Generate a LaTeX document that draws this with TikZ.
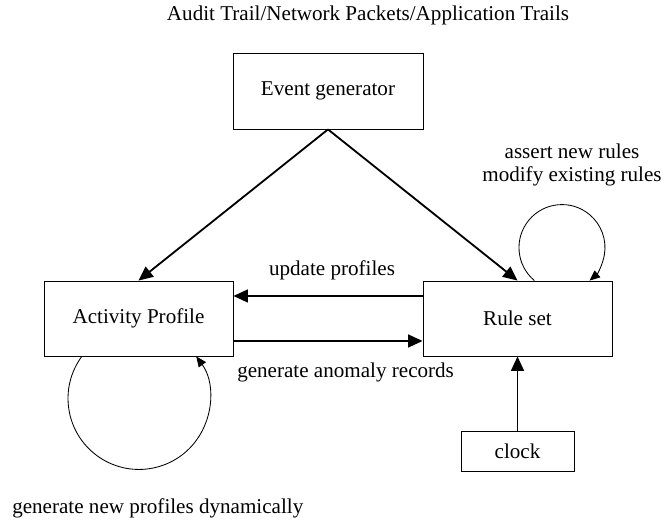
\documentclass[tikz,border=0pt]{standalone}
\usepackage{fontspec}
\setmainfont{Liberation Serif}
\usetikzlibrary{arrows.meta}

\begin{document}
\begin{tikzpicture}[
  box/.style={rectangle, draw, line width=0.6pt,
              minimum width=4.75cm, minimum height=1.9cm,
              font=\fontsize{15}{17}\selectfont, inner sep=0pt},
  lbl/.style={font=\fontsize{15}{17}\selectfont, align=center, inner sep=0pt},
  arr/.style={-{Triangle[length=0.36cm, width=0.32cm]}, line width=1.3pt},
  selfarr/.style={-{Triangle[length=0.26cm, width=0.22cm]}, line width=0.6pt}
]
\useasboundingbox (0,0) rectangle (16.65,13);

% Source text (top)
\node[lbl] (title) at (9.2,12.625) {Audit Trail/Network Packets/Application Trails};

% Event generator
\node[box] (evgen) at (8.2,10.725) {Event generator};

% Activity profile and rule set
\node[box, minimum width=4.725cm, minimum height=1.875cm] (actv) at (3.4625,5.0375) {Activity Profile};
\node[box, minimum width=4.725cm, minimum height=1.875cm] (rules) at (12.9375,5.0375) {Rule set};

% Clock (bottom)
\node[box, minimum width=2.825cm, minimum height=1cm] (clock) at (12.9375,1.725) {clock};

% Arrows
\draw[arr] (evgen.south) -- (actv.north);
\draw[arr] (evgen.south) -- (rules.north);
\draw[arr] ([yshift=0.5625cm]rules.west) -- ([yshift=0.5625cm]actv.east);
\draw[arr] ([yshift=-0.5625cm]actv.east) -- ([yshift=-0.5625cm]rules.west);
\draw[arr] (clock.north) -- (rules.south);

% Self loops
\draw[selfarr] ([xshift=0.4225cm]rules.north) arc[start angle=230.1, end angle=-50.1, radius=1.075cm];
\draw[selfarr] ([xshift=-1.4175cm]actv.south) arc[start angle=143.7, end angle=396.3, radius=1.775cm];

% Labels
\node[lbl] (upd) at (8.3,6.25) {update profiles};
\node[lbl, anchor=west] (anom) at (5.925,3.7) {generate anomaly records};
\node[lbl] (rulelbl) at (14.3,8.875) {assert new rules\\modify existing rules};
\node[lbl, anchor=west] (dyn) at (0.3,0.3) {generate new profiles dynamically};
\end{tikzpicture}
\end{document}
